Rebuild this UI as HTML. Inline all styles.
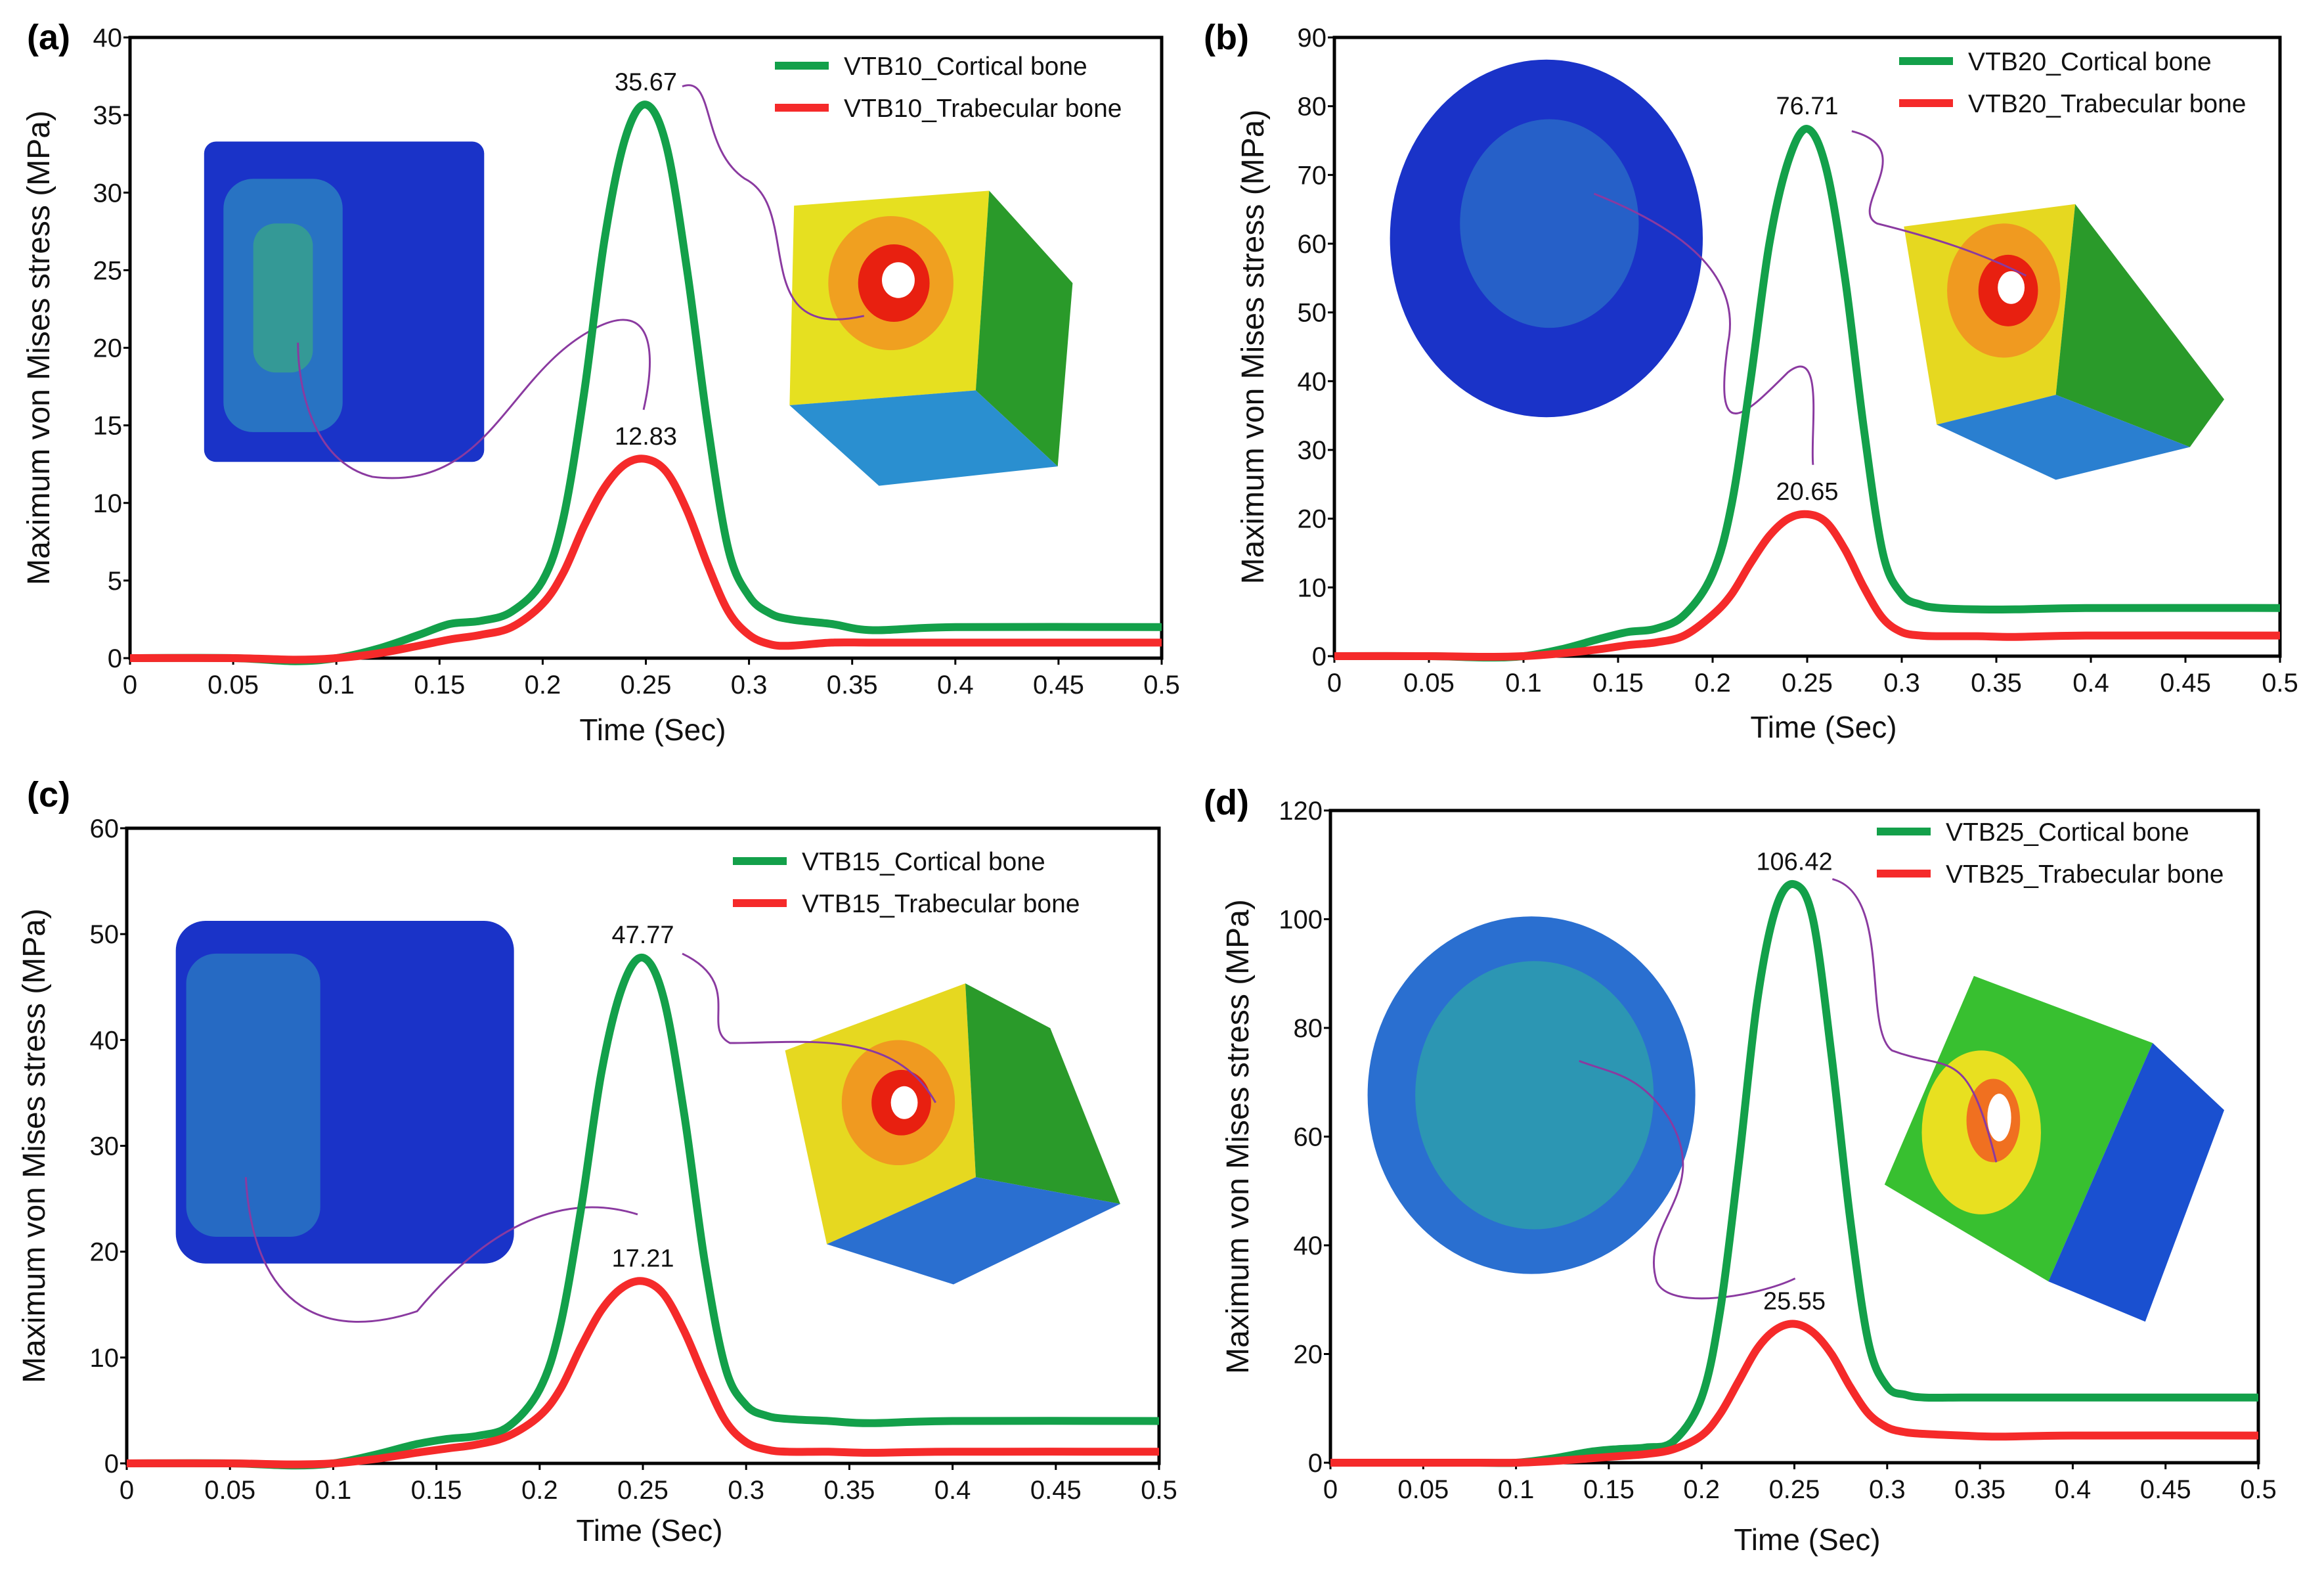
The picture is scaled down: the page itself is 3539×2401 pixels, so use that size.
<!DOCTYPE html>
<html><head><meta charset="utf-8">
<style>
html,body{margin:0;padding:0;background:#fff;}
svg{display:block;font-family:"Liberation Sans",Arial,sans-serif;}
</style></head>
<body>
<svg id="fig" width="3539" height="2401" viewBox="0 0 3539 2401" xmlns="http://www.w3.org/2000/svg">
<g id="insets" transform="scale(2.2686)">
  <g>
    <rect x="137" y="95" width="188" height="215" rx="8" fill="#1a33c8"/>
    <rect x="150" y="120" width="80" height="170" rx="20" fill="#2f8fc0" opacity="0.7"/>
    <rect x="170" y="150" width="40" height="100" rx="15" fill="#3fbf6a" opacity="0.5"/>
  </g>
  <g>
    <polygon points="533,138 664,128 655,262 530,272" fill="#e6e020"/>
    <polygon points="664,128 720,190 710,313 655,262" fill="#2a9a2a"/>
    <polygon points="530,272 655,262 710,313 590,326" fill="#2a8fd0"/>
    <ellipse cx="598" cy="190" rx="42" ry="45" fill="#f0a020"/>
    <ellipse cx="600" cy="190" rx="24" ry="26" fill="#e82010"/>
    <ellipse cx="603" cy="188" rx="11" ry="12" fill="#fff"/>
  </g>
  <g>
    <ellipse cx="1038" cy="160" rx="105" ry="120" fill="#1a33c8"/>
    <ellipse cx="1040" cy="150" rx="60" ry="70" fill="#2f7fc8" opacity="0.6"/>
  </g>
  <g>
    <polygon points="1278,152 1393,137 1380,265 1300,285" fill="#e6d820"/>
    <polygon points="1393,137 1493,268 1470,300 1380,265" fill="#2a9a2a"/>
    <polygon points="1300,285 1380,265 1470,300 1380,322" fill="#2a7fd0"/>
    <ellipse cx="1345" cy="195" rx="38" ry="45" fill="#f09a20"/>
    <ellipse cx="1348" cy="195" rx="20" ry="24" fill="#e82010"/>
    <ellipse cx="1350" cy="193" rx="9" ry="11" fill="#fff"/>
  </g>
  <g>
    <rect x="118" y="618" width="227" height="230" rx="20" fill="#1a33c8"/>
    <rect x="125" y="640" width="90" height="190" rx="20" fill="#2f8fc0" opacity="0.6"/>
  </g>
  <g>
    <polygon points="527,705 648,660 655,790 555,835" fill="#e6d820"/>
    <polygon points="648,660 705,690 752,808 655,790" fill="#2a9a2a"/>
    <polygon points="555,835 655,790 752,808 640,862" fill="#2a6fd0"/>
    <ellipse cx="603" cy="740" rx="38" ry="42" fill="#f09a20"/>
    <ellipse cx="605" cy="740" rx="20" ry="22" fill="#e82010"/>
    <ellipse cx="607" cy="740" rx="9" ry="11" fill="#fff"/>
  </g>
  <g>
    <ellipse cx="1028" cy="735" rx="110" ry="120" fill="#2a6fd0"/>
    <ellipse cx="1030" cy="735" rx="80" ry="90" fill="#2fb0a0" opacity="0.6"/>
  </g>
  <g>
    <polygon points="1265,795 1325,655 1445,700 1375,860" fill="#38c030"/>
    <polygon points="1445,700 1493,745 1440,887 1375,860" fill="#1a50d0"/>
    <ellipse cx="1330" cy="760" rx="40" ry="55" fill="#e8e020"/>
    <ellipse cx="1338" cy="752" rx="18" ry="28" fill="#f07020"/>
    <ellipse cx="1342" cy="750" rx="8" ry="16" fill="#fff"/>
  </g>
  <g fill="none" stroke="#8a3aa0" stroke-width="1.3">
    <path d="M458,58 C480,50 470,100 500,120 C540,140 500,230 580,212"/>
    <path d="M432,275 C440,240 440,200 400,220 C340,250 330,330 250,320 C210,310 200,260 200,230"/>
    <path d="M1243,88 C1290,100 1240,140 1260,150 C1300,160 1330,170 1360,185"/>
    <path d="M1217,312 C1215,290 1225,230 1200,250 C1170,280 1150,300 1160,230 C1170,180 1120,150 1070,130"/>
    <path d="M458,640 C500,660 470,690 490,700 C540,700 600,690 628,740"/>
    <path d="M428,815 C380,800 330,820 280,880 C220,900 170,880 165,790"/>
    <path d="M1230,590 C1270,600 1250,690 1270,705 C1310,720 1320,700 1340,780"/>
    <path d="M1205,858 C1180,870 1120,880 1112,860 C1100,820 1150,800 1120,750 C1100,720 1080,720 1060,712"/>
  </g>
</g>
<g id="charts"></g>
</svg>
<script>
const times = [0,0.05,0.08,0.1,0.12,0.14,0.155,0.17,0.185,0.2,0.21,0.22,0.23,0.24,0.25,0.26,0.27,0.28,0.29,0.3,0.31,0.32,0.34,0.36,0.4,0.5];
const xTicks = [0,0.05,0.1,0.15,0.2,0.25,0.3,0.35,0.4,0.45,0.5];
const xTickLabels = ["0","0.05","0.1","0.15","0.2","0.25","0.3","0.35","0.4","0.45","0.5"];
const corticalA = [0,0,-0.2,0,0.6,1.5,2.2,2.4,3,5,9,17,27,33.5,35.67,33,25,15,7,4,2.9,2.5,2.2,1.8,2,2];
const trabecularA = [0,0,-0.1,0,0.3,0.8,1.2,1.5,2,3.5,5.5,8.5,11,12.5,12.83,12,9.5,6,3,1.5,0.9,0.8,1.0,1.0,1.0,1.0];
const corticalB = [0,0,-0.2,0,1,2.5,3.5,4,6,12,22,40,60,72,76.71,71,55,33,15,9,7.5,7,6.8,6.8,7,7];
const trabecularB = [0,0,-0.1,0,0.4,1,1.6,2,3,6,9,13.5,17.5,20,20.65,19.5,15.5,10,5.5,3.5,3,2.9,2.9,2.8,3,3];
const corticalC = [0,0,-0.2,0,0.8,1.8,2.3,2.6,3.5,7,13,24,37,45,47.77,44,33,19,9,5.5,4.5,4.2,4,3.8,4,4];
const trabecularC = [0,0,-0.1,0,0.4,1,1.4,1.8,2.6,4.5,7,11,14.5,16.6,17.21,16,12.5,8,4,2,1.3,1.1,1.1,1,1.1,1.1];
const corticalD = [0,0,0,0,0.8,2,2.5,2.8,4,12,28,55,85,102,106.42,100,75,45,22,14,12.5,12,12,12,12,12];
const trabecularD = [0,0,0,0,0.3,0.8,1.2,1.6,2.5,5,9,15,21,24.5,25.55,24,20,14,9,6.5,5.6,5.3,5,4.8,5,5];
const yTicksA = [0,5,10,15,20,25,30,35,40];
const yTicksB = [0,10,20,30,40,50,60,70,80,90];
const yTicksC = [0,10,20,30,40,50,60];
const yTicksD = [0,20,40,60,80,100,120];
const peakLabelsA = ["35.67","12.83"];
const peakLabelsB = ["76.71","20.65"];
const peakLabelsC = ["47.77","17.21"];
const peakLabelsD = ["106.42","25.55"];

const NS="http://www.w3.org/2000/svg";
const root=document.getElementById('charts');
function mk(tag,attrs,parent){const e=document.createElementNS(NS,tag);for(const k in attrs)e.setAttribute(k,attrs[k]);(parent||root).appendChild(e);return e;}

const panels=[
 {id:'a',L:198,R:1769,T:57,B:1002,yt:yTicksA,c:corticalA,t:trabecularA,pk:peakLabelsA,name:'VTB10',leg:[1180,100],ytx:75,xt:[994,1127],let:[41,57]},
 {id:'b',L:2032,R:3472,T:57,B:999,yt:yTicksB,c:corticalB,t:trabecularB,pk:peakLabelsB,name:'VTB20',leg:[2892,93],ytx:1924,xt:[2777,1123],let:[1833,57]},
 {id:'c',L:193,R:1765,T:1261,B:2228,yt:yTicksC,c:corticalC,t:trabecularC,pk:peakLabelsC,name:'VTB15',leg:[1116,1311],ytx:68,xt:[989,2346],let:[41,1210]},
 {id:'d',L:2026,R:3439,T:1234,B:2227,yt:yTicksD,c:corticalD,t:trabecularD,pk:peakLabelsD,name:'VTB25',leg:[2858,1266],ytx:1901,xt:[2752,2360],let:[1833,1222]}
];

function smoothPath(pts){
  let d='M'+pts[0][0]+','+pts[0][1];
  for(let i=0;i<pts.length-1;i++){
    const p0=pts[Math.max(0,i-1)],p1=pts[i],p2=pts[i+1],p3=pts[Math.min(pts.length-1,i+2)];
    const c1x=p1[0]+(p2[0]-p0[0])/6,c1y=p1[1]+(p2[1]-p0[1])/6;
    const c2x=p2[0]-(p3[0]-p1[0])/6,c2y=p2[1]-(p3[1]-p1[1])/6;
    d+=' C'+c1x.toFixed(1)+','+c1y.toFixed(1)+' '+c2x.toFixed(1)+','+c2y.toFixed(1)+' '+p2[0].toFixed(1)+','+p2[1].toFixed(1);
  }
  return d;
}

panels.forEach(p=>{
  const g=mk('g',{});
  
  
  const ymax=p.yt[p.yt.length-1];
  const xs=v=>p.L+(v-0)/(0.5)*(p.R-p.L);
  const ys=v=>p.B-v/ymax*(p.B-p.T);
  const fr=mk('rect',{x:p.L,y:p.T,width:p.R-p.L,height:p.B-p.T,fill:'none',stroke:'#000','stroke-width':5},g);
  
  
  xTicks.forEach((v,i)=>{
    const x=xs(v);
    mk('line',{x1:x,x2:x,y1:p.B,y2:p.B+10,stroke:'#000','stroke-width':3},g);
    const t=mk('text',{x:x,y:p.B+54,'font-size':40,'text-anchor':'middle',fill:'#111'},g);
    
    
    t.textContent=xTickLabels[i];
  });
  p.yt.forEach(v=>{
    const y=ys(v);
    mk('line',{x1:p.L-10,x2:p.L,y1:y,y2:y,stroke:'#000','stroke-width':3},g);
    const t=mk('text',{x:p.L-12,y:y+14,'font-size':40,'text-anchor':'end',fill:'#111'},g);
    
    
    t.textContent=String(v);
  });
  const cy=(p.T+p.B)/2;
  const yt=mk('text',{x:p.ytx,y:cy,'font-size':48,'text-anchor':'middle',transform:'rotate(-90 '+p.ytx+' '+cy+')',fill:'#111'},g);
  
  
  yt.textContent='Maximum von Mises stress (MPa)';
  const xt=mk('text',{x:p.xt[0],y:p.xt[1],'font-size':46,'text-anchor':'middle',fill:'#111'},g);
  
  
  xt.textContent='Time (Sec)';
  const lt=mk('text',{x:p.let[0],y:p.let[1]+18,'font-size':54,'font-weight':'bold',fill:'#000'},g);
  
  
  lt.textContent='('+p.id+')';
  [[p.c,'#13a04a','cortical-line'],[p.t,'#f52a2a','trabecular-line']].forEach(s=>{
    const pts=times.map((tv,i)=>[xs(tv),ys(s[0][i])]);
    const path=mk('path',{d:smoothPath(pts),fill:'none',stroke:s[1],'stroke-width':12,'stroke-linejoin':'round'},g);
    
    
  });
  const pi=times.indexOf(0.25);
  [[p.c,p.pk[0]],[p.t,p.pk[1]]].forEach(s=>{
    const t=mk('text',{x:xs(0.25),y:ys(s[0][pi])-22,'font-size':38,'text-anchor':'middle',fill:'#111'},g);
    
    
    t.textContent=s[1];
  });
  const [lx,ly]=p.leg;
  [['#13a04a',p.name+'_Cortical bone',0],['#f52a2a',p.name+'_Trabecular bone',64]].forEach(e=>{
    const lg=mk('g',{},g);
    
    
    mk('line',{x1:lx,x2:lx+82,y1:ly+e[2],y2:ly+e[2],stroke:e[0],'stroke-width':12},lg);
    const t=mk('text',{x:lx+105,y:ly+e[2]+14,'font-size':39,fill:'#111'},lg);
    t.textContent=e[1];
  });
});
</script>
</body></html>
